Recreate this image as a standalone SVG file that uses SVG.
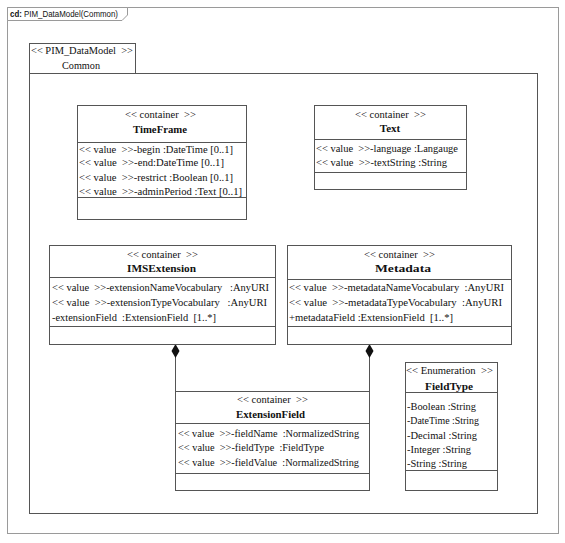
<svg xmlns="http://www.w3.org/2000/svg" width="565" height="543" viewBox="0 0 565 543">
<style>
.frame{fill:#fff;stroke:#9a9a9a;stroke-width:1}
.box{fill:#fff;stroke:#555;stroke-width:1}
.ln{stroke:#555;stroke-width:1;fill:none}
.dia{fill:#111;stroke:none}
text{font-family:"Liberation Serif","Times New Roman",serif;font-size:11px;fill:#111;white-space:pre}
.c{text-anchor:middle}
.b{font-weight:bold;font-size:11px}
.lbl{font-family:"Liberation Sans",Arial,sans-serif;font-size:8.5px}
</style>
<rect width="565" height="543" fill="#fff"/>
<rect class="frame" x="7.5" y="7.5" width="551" height="526"/>
<path class="frame" d="M7.5,7.5 H127.5 V15 L122,20.5 H7.5 Z"/>
<text class="lbl" x="10" y="17" textLength="108" lengthAdjust="spacingAndGlyphs"><tspan font-weight="bold">cd:</tspan> PIM_DataModel(Common)</text>
<g id="package">
<rect class="box" x="29.5" y="43.5" width="106" height="30"/>
<rect class="box" x="29.5" y="73.5" width="508" height="440"/>
<text x="31" y="54" textLength="102" lengthAdjust="spacingAndGlyphs">&lt;&lt; PIM_DataModel  &gt;&gt;</text>
<text x="62" y="69" textLength="38" lengthAdjust="spacingAndGlyphs">Common</text>
</g>
<g id="connectors">
<path class="ln" d="M175.5,350 V391 M369.5,350 V391"/>
<path class="dia" d="M175.5,344 L179.5,351 L175.5,358 L171.5,351 Z"/>
<path class="dia" d="M369.5,344 L373.5,351 L369.5,358 L365.5,351 Z"/>
</g>
<g id="TimeFrame">
<rect class="box" x="77.5" y="105.5" width="169" height="114"/>
<path class="ln" d="M77.5,142.5 H246.5 M77.5,197.5 H246.5"/>
<text x="125" y="118" textLength="71" lengthAdjust="spacingAndGlyphs">&lt;&lt; container  &gt;&gt;</text>
<text class="b" x="133" y="133" textLength="54" lengthAdjust="spacingAndGlyphs">TimeFrame</text>
<text x="79" y="153" textLength="154" lengthAdjust="spacingAndGlyphs">&lt;&lt; value  &gt;&gt;-begin :DateTime [0..1]</text>
<text x="79" y="166" textLength="145" lengthAdjust="spacingAndGlyphs">&lt;&lt; value  &gt;&gt;-end:DateTime [0..1]</text>
<text x="79" y="181" textLength="154" lengthAdjust="spacingAndGlyphs">&lt;&lt; value  &gt;&gt;-restrict :Boolean [0..1]</text>
<text x="79" y="195" textLength="163" lengthAdjust="spacingAndGlyphs">&lt;&lt; value  &gt;&gt;-adminPeriod :Text [0..1]</text>
</g>
<g id="Text">
<rect class="box" x="314.5" y="105.5" width="152" height="84"/>
<path class="ln" d="M314.5,139.5 H466.5 M314.5,172.5 H466.5"/>
<text x="355" y="118" textLength="71" lengthAdjust="spacingAndGlyphs">&lt;&lt; container  &gt;&gt;</text>
<text class="b c" x="390" y="132">Text</text>
<text x="316" y="152" textLength="142" lengthAdjust="spacingAndGlyphs">&lt;&lt; value  &gt;&gt;-language :Langauge</text>
<text x="316" y="166" textLength="131" lengthAdjust="spacingAndGlyphs">&lt;&lt; value  &gt;&gt;-textString :String</text>
</g>
<g id="IMSExtension">
<rect class="box" x="49.5" y="245.5" width="226" height="99"/>
<path class="ln" d="M49.5,277.5 H275.5 M49.5,326.5 H275.5"/>
<text x="127" y="258" textLength="71" lengthAdjust="spacingAndGlyphs">&lt;&lt; container  &gt;&gt;</text>
<text class="b" x="127" y="272" textLength="69" lengthAdjust="spacingAndGlyphs">IMSExtension</text>
<text x="52" y="291" textLength="217" lengthAdjust="spacingAndGlyphs">&lt;&lt; value  &gt;&gt;-extensionNameVocabulary   :AnyURI</text>
<text x="52" y="306" textLength="215" lengthAdjust="spacingAndGlyphs">&lt;&lt; value  &gt;&gt;-extensionTypeVocabulary   :AnyURI</text>
<text x="52" y="321" textLength="164" lengthAdjust="spacingAndGlyphs">-extensionField  :ExtensionField  [1..*]</text>
</g>
<g id="Metadata">
<rect class="box" x="287.5" y="245.5" width="224" height="99"/>
<path class="ln" d="M287.5,279.5 H511.5 M287.5,326.5 H511.5"/>
<text x="364" y="258" textLength="71" lengthAdjust="spacingAndGlyphs">&lt;&lt; container  &gt;&gt;</text>
<text class="b" x="375" y="272" textLength="56" lengthAdjust="spacingAndGlyphs">Metadata</text>
<text x="289" y="291" textLength="215" lengthAdjust="spacingAndGlyphs">&lt;&lt; value  &gt;&gt;-metadataNameVocabulary  :AnyURI</text>
<text x="289" y="306" textLength="213" lengthAdjust="spacingAndGlyphs">&lt;&lt; value  &gt;&gt;-metadataTypeVocabulary  :AnyURI</text>
<text x="289" y="321" textLength="164" lengthAdjust="spacingAndGlyphs">+metadataField :ExtensionField  [1..*]</text>
</g>
<g id="ExtensionField">
<rect class="box" x="175.5" y="391.5" width="194" height="99"/>
<path class="ln" d="M175.5,423.5 H369.5 M175.5,473.5 H369.5"/>
<text x="237" y="403" textLength="71" lengthAdjust="spacingAndGlyphs">&lt;&lt; container  &gt;&gt;</text>
<text class="b" x="236" y="418" textLength="69" lengthAdjust="spacingAndGlyphs">ExtensionField</text>
<text x="178" y="437" textLength="181" lengthAdjust="spacingAndGlyphs">&lt;&lt; value  &gt;&gt;-fieldName  :NormalizedString</text>
<text x="178" y="451" textLength="146" lengthAdjust="spacingAndGlyphs">&lt;&lt; value  &gt;&gt;-fieldType  :FieldType</text>
<text x="178" y="466" textLength="181" lengthAdjust="spacingAndGlyphs">&lt;&lt; value  &gt;&gt;-fieldValue  :NormalizedString</text>
</g>
<g id="FieldType">
<rect class="box" x="405.5" y="362.5" width="92" height="128"/>
<path class="ln" d="M405.5,392.5 H497.5 M405.5,470.5 H497.5"/>
<text x="406" y="374" textLength="87" lengthAdjust="spacingAndGlyphs">&lt;&lt; Enumeration  &gt;&gt;</text>
<text class="b" x="425" y="390" textLength="48" lengthAdjust="spacingAndGlyphs">FieldType</text>
<text x="407" y="410" textLength="69" lengthAdjust="spacingAndGlyphs">-Boolean :String</text>
<text x="407" y="424" textLength="72" lengthAdjust="spacingAndGlyphs">-DateTime :String</text>
<text x="407" y="439" textLength="70" lengthAdjust="spacingAndGlyphs">-Decimal :String</text>
<text x="407" y="453" textLength="64" lengthAdjust="spacingAndGlyphs">-Integer :String</text>
<text x="407" y="467" textLength="60" lengthAdjust="spacingAndGlyphs">-String :String</text>
</g>
</svg>
